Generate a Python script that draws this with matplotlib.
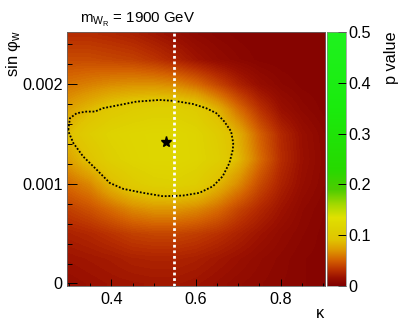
import numpy as np
import matplotlib
matplotlib.use('Agg')
import matplotlib.pyplot as plt
from matplotlib.colors import LinearSegmentedColormap

plt.rcParams['font.family'] = 'Liberation Sans'
plt.rcParams['mathtext.fontset'] = 'custom'
plt.rcParams['mathtext.rm'] = 'Liberation Sans'
plt.rcParams['mathtext.it'] = 'Liberation Sans:italic'

## scan grid (node positions) and p values
kappa = [0.30, 0.35, 0.40, 0.45, 0.50, 0.55, 0.60, 0.65, 0.70, 0.75, 0.80, 0.85, 0.90]
sinphi = [0.0, 0.00025, 0.0005, 0.00075, 0.001, 0.00125, 0.0015,
          0.00175, 0.002, 0.00225, 0.0025]
pvalue = [
    [0.014, 0.016, 0.018, 0.019, 0.020, 0.020, 0.018, 0.015, 0.012, 0.010, 0.008, 0.006, 0.005],
    [0.018, 0.020, 0.022, 0.025, 0.026, 0.026, 0.024, 0.020, 0.016, 0.012, 0.009, 0.006, 0.005],
    [0.025, 0.028, 0.033, 0.038, 0.040, 0.040, 0.037, 0.032, 0.025, 0.018, 0.012, 0.008, 0.005],
    [0.038, 0.045, 0.055, 0.065, 0.070, 0.070, 0.065, 0.055, 0.040, 0.028, 0.018, 0.010, 0.006],
    [0.055, 0.065, 0.085, 0.100, 0.108, 0.110, 0.104, 0.085, 0.065, 0.042, 0.025, 0.014, 0.008],
    [0.075, 0.092, 0.108, 0.116, 0.120, 0.120, 0.116, 0.106, 0.085, 0.055, 0.030, 0.016, 0.009],
    [0.088, 0.104, 0.114, 0.118, 0.120, 0.120, 0.115, 0.102, 0.080, 0.050, 0.028, 0.015, 0.008],
    [0.075, 0.086, 0.097, 0.103, 0.107, 0.107, 0.102, 0.082, 0.055, 0.032, 0.016, 0.009, 0.005],
    [0.058, 0.062, 0.066, 0.068, 0.068, 0.065, 0.055, 0.040, 0.025, 0.014, 0.008, 0.005, 0.004],
    [0.042, 0.042, 0.040, 0.038, 0.033, 0.026, 0.018, 0.012, 0.008, 0.005, 0.004, 0.004, 0.004],
    [0.030, 0.030, 0.028, 0.025, 0.020, 0.015, 0.010, 0.007, 0.005, 0.004, 0.004, 0.004, 0.004],
]

## dotted contour
contour_kappa = [0.298, 0.302, 0.318, 0.341, 0.361, 0.380, 0.420, 0.459, 0.514, 0.549,
                 0.592, 0.624, 0.648, 0.667, 0.683, 0.688, 0.687, 0.679, 0.663, 0.640,
                 0.608, 0.569, 0.522, 0.475, 0.428, 0.396, 0.365, 0.333, 0.310, 0.300, 0.298]
contour_sinphi = [0.001543, 0.00166, 0.00171, 0.001726, 0.001726, 0.00176, 0.001793, 0.001826,
                  0.001843, 0.001833, 0.001803, 0.00176, 0.00171, 0.001626, 0.001526, 0.00141,
                  0.001343, 0.00121, 0.001076, 0.000976, 0.00091, 0.000883, 0.000876, 0.00091,
                  0.00095, 0.00101, 0.001143, 0.001276, 0.00141, 0.00151, 0.001543]

best_kappa = 0.528
best_sinphi = 0.00142
kappa_line = 0.547

## ROOT-like palette
nodes = [(0.00, (0.50, 0.00, 0.00)),
         (0.03, (0.60, 0.06, 0.00)),
         (0.06, (0.72, 0.18, 0.00)),
         (0.10, (0.83, 0.38, 0.00)),
         (0.14, (0.87, 0.60, 0.00)),
         (0.18, (0.88, 0.77, 0.00)),
         (0.22, (0.87, 0.82, 0.00)),
         (0.27, (0.88, 0.88, 0.00)),
         (0.32, (0.65, 0.85, 0.00)),
         (0.38, (0.30, 0.80, 0.00)),
         (0.46, (0.15, 0.85, 0.00)),
         (0.70, (0.10, 0.92, 0.05)),
         (1.00, (0.12, 0.95, 0.12))]
cmap = LinearSegmentedColormap.from_list('pal', nodes)

fig = plt.figure(figsize=(4.07, 3.32), dpi=100)
ax = fig.add_axes([0.1646, 0.1386, 0.634, 0.765])
cax = fig.add_axes([0.8034, 0.1386, 0.0467, 0.765])

dk = kappa[1] - kappa[0]
ds = sinphi[1] - sinphi[0]
im = ax.imshow(np.array(pvalue), origin='lower', aspect='auto', cmap=cmap,
               vmin=0, vmax=0.5, interpolation='bilinear',
               extent=[kappa[0] - dk / 2, kappa[-1] + dk / 2,
                       sinphi[0] - ds / 2, sinphi[-1] + ds / 2])
ax.set_xlim(0.295, 0.905)
ax.set_ylim(-0.000025, 0.002525)

ax.plot(contour_kappa, contour_sinphi, color='black', lw=1.3, ls=(0, (1, 1)))
ax.axvline(kappa_line, color='white', lw=2, ls=(0, (1, 1)))
ax.plot([best_kappa], [best_sinphi], marker='*', color='black', ms=8, ls='none')

ax.set_xticks([0.4, 0.6, 0.8])
ax.set_xticklabels(['0.4', '0.6', '0.8'])
ax.set_xticks(np.arange(0.30, 0.91, 0.05), minor=True)
ax.set_yticks([0, 0.001, 0.002])
ax.set_yticklabels(['0', '0.001', '0.002'])
ax.set_yticks(np.arange(0, 0.0025, 0.0002), minor=True)
ax.tick_params(axis='x', which='major', direction='in', length=4.8, width=0.7, pad=4, labelsize=11.7)
ax.tick_params(axis='x', which='minor', direction='in', length=2.4, width=0.7)
ax.tick_params(axis='y', which='major', direction='in', length=7, width=0.7, pad=3, labelsize=11.7)
ax.tick_params(axis='y', which='minor', direction='in', length=3.6, width=0.7)
for sp in ax.spines.values():
    sp.set_linewidth(0.6)
    sp.set_color('#666666')

cb = fig.colorbar(im, cax=cax)
cb.set_ticks([0, 0.1, 0.2, 0.3, 0.4, 0.5])
cb.set_ticklabels(['0', '0.1', '0.2', '0.3', '0.4', '0.5'])
cax.tick_params(direction='in', length=5.5, width=0.7, pad=1.5, labelsize=11.7)
cb.outline.set_linewidth(0.5)
cb.outline.set_edgecolor('#888888')

fig.text(0.197, 0.932, r'm$_{\mathrm{W}_{\mathrm{R}}}$ = 1900 GeV', fontsize=10.8, va='baseline', ha='left')
fig.text(0.032, 0.91, r'sin φ$_{\mathrm{w}}$', fontsize=12, rotation=90, va='top', ha='center')
fig.text(0.786, 0.057, 'κ', fontsize=11.7, va='center', ha='center')
fig.text(0.963, 0.904, 'p value', fontsize=11.7, rotation=90, va='top', ha='center')

fig.savefig('out.png', dpi=100)
